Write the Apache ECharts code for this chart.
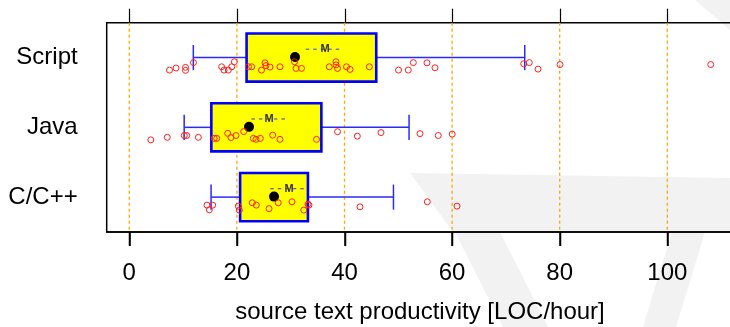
<!DOCTYPE html>
<html><head><meta charset="utf-8">
<script src="https://cdn.jsdelivr.net/npm/echarts@6/dist/echarts.min.js"></script>
<style>html,body{margin:0;padding:0;background:#fff;overflow:hidden}#c{width:730px;height:327px}</style>
</head><body><div id="c"></div>
<script>
// ---- data ----
const categories = ['Script', 'Java', 'C/C++'];
const xTicks = [0, 20, 40, 60, 80, 100];
const xTitle = 'source text productivity [LOC/hour]';

// per category (order as categories)
const whiskerLow  = [11.9, 10.2, 15.2];   // 10% quantile
const q1          = [21.8, 15.25, 20.6];
const median      = [30.8, 22.25, 26.9];
const q3          = [45.9, 35.7, 33.2];
const whiskerHigh = [73.5, 52.0, 49.1];   // 90% quantile
const mean        = [36.4, 26.0, 29.7];
const seLow       = [32.8, 22.7, 26.2];   // mean - 1 SE
const seHigh      = [39.5, 29.4, 33.0];   // mean + 1 SE

// individual observations (value) and their vertical jitter (category units)
const scriptValues = [7.47, 8.68, 10.45, 10.45, 11.93, 17.17, 17.60, 18.40, 19.03, 19.52, 22.16, 22.75, 24.57, 25.22, 25.41, 26.15, 28.01, 30.71, 30.99, 32.01, 37.17, 38.42, 38.42, 38.70, 40.37, 41.02, 44.61, 50.04, 51.86, 52.79, 55.33, 56.82, 73.31, 74.35, 75.97, 80.06, 108.07];
const scriptJitter = [0.179, 0.150, 0.140, 0.183, 0.072, 0.132, 0.179, 0.179, 0.132, 0.060, 0.132, 0.132, 0.179, 0.075, 0.115, 0.136, 0.132, 0.060, 0.155, 0.155, 0.132, 0.060, 0.105, 0.155, 0.132, 0.169, 0.132, 0.179, 0.179, 0.072, 0.075, 0.146, 0.089, 0.072, 0.165, 0.100, 0.100];
const javaValues = [4.00, 7.06, 10.22, 10.67, 12.83, 15.78, 16.25, 18.29, 18.90, 19.83, 21.26, 23.05, 23.55, 24.35, 26.65, 28.01, 34.80, 38.70, 42.38, 46.78, 54.03, 57.43, 60.02];
const javaJitter = [0.179, 0.143, 0.117, 0.117, 0.143, 0.158, 0.158, 0.086, 0.146, 0.117, 0.060, 0.158, 0.172, 0.158, 0.112, 0.172, 0.172, 0.062, 0.126, 0.075, 0.090, 0.117, 0.097];
const cppValues = [14.44, 15.50, 14.87, 20.26, 20.45, 22.86, 23.61, 25.97, 27.68, 30.24, 32.43, 33.22, 33.40, 42.88, 55.39, 60.91];
const cppJitter = [0.115, 0.115, 0.182, 0.129, 0.186, 0.082, 0.115, 0.165, 0.082, 0.067, 0.186, 0.100, 0.115, 0.139, 0.067, 0.129];

const pointValues = [scriptValues, javaValues, cppValues];
const pointJitter = [scriptJitter, javaJitter, cppJitter];

// ---- chart ----
const FONT = '"Liberation Sans", Arial, Helvetica, sans-serif';
const X_MIN = -4.2, X_MAX = 115.37;

const boxData = categories.map((c, i) => [i, whiskerLow[i], q1[i], median[i], q3[i], whiskerHigh[i], mean[i], seLow[i], seHigh[i]]);
const pointData = [];
pointValues.forEach((arr, i) => arr.forEach((v, k) => pointData.push([v, i + pointJitter[i][k]])));

const chart = echarts.init(document.getElementById('c'), null, {renderer: 'canvas'});
chart.setOption({
  animation: false,
  backgroundColor: '#fff',
  graphic: [
    {type: 'polygon', z: -1, silent: true, shape: {points: [[695, 0], [730, 0], [730, 30]]}, style: {fill: '#f2f2f2'}},
    {type: 'polygon', z: -1, silent: true, shape: {points: [[410, 173], [730, 178], [730, 232], [453, 232]]}, style: {fill: '#f2f2f2'}},
    {type: 'polygon', z: -1, silent: true, shape: {points: [[455, 232], [500, 232], [548, 327], [503, 327]]}, style: {fill: '#f2f2f2'}},
    {type: 'polygon', z: -1, silent: true, shape: {points: [[672, 232], [705, 232], [676, 327], [643, 327]]}, style: {fill: '#f2f2f2'}},
    {type: 'text', x: 420, y: 312, silent: true,
      style: {text: xTitle, font: '24px ' + FONT, fill: '#000', align: 'center', verticalAlign: 'middle'}}
  ],
  grid: {left: 106.7, top: 22.7, width: 643.3, height: 209.3, outerBoundsMode: 'none', containLabel: false,
    show: true, borderColor: '#000', borderWidth: 1.5, backgroundColor: 'transparent'},
  xAxis: [
    {type: 'value', position: 'bottom', min: X_MIN, max: X_MAX,
      axisLine: {show: true, onZero: false, lineStyle: {color: '#000', width: 1.5}},
      axisTick: {show: true, length: 14, inside: false, customValues: xTicks, lineStyle: {color: '#000', width: 1.5}},
      axisLabel: {show: true, customValues: xTicks, margin: 29, fontSize: 24, fontFamily: FONT, color: '#000'},
      splitLine: {show: false}}
  ],
  yAxis: [
    {type: 'category', data: categories, inverse: true, boundaryGap: true,
      axisLine: {show: false}, axisTick: {show: false}, splitLine: {show: false},
      axisLabel: {margin: 29, fontSize: 24, fontFamily: FONT, color: '#000'}},
    {type: 'value', min: -0.5, max: 2.5, inverse: true, show: false,
      axisLine: {show: false, onZero: false}, splitLine: {show: false}}
  ],
  series: [
    { // dashed orange reference lines
      type: 'custom', xAxisIndex: 0, yAxisIndex: 1, z: 1, silent: true, clip: false,
      data: xTicks.map(t => [t]),
      renderItem(params, api) {
        const cs = params.coordSys;
        const x = api.coord([api.value(0), 0])[0];
        return {type: 'line', shape: {x1: x, y1: cs.y, x2: x, y2: cs.y + cs.height},
          style: {stroke: '#ffa500', lineWidth: 1.3, lineDash: [3, 3]}};
      }
    },
    { // outward tick marks above the top frame and below the bottom frame
      type: 'custom', xAxisIndex: 0, yAxisIndex: 1, z: 10, silent: true, clip: false,
      data: xTicks.map(t => [t]),
      renderItem(params, api) {
        const cs = params.coordSys;
        const x = Math.round(api.coord([api.value(0), 0])[0]) + 0.5;
        const yt = cs.y, yb = cs.y + cs.height;
        return {type: 'group', children: [
          {type: 'line', shape: {x1: x, y1: yt - 14, x2: x, y2: yt}, style: {stroke: '#000', lineWidth: 1.2}},
          {type: 'line', shape: {x1: x, y1: yb, x2: x, y2: yb + 14}, style: {stroke: '#000', lineWidth: 1.5}}
        ]};
      }
    },
    { // boxes
      type: 'custom', xAxisIndex: 0, yAxisIndex: 1, z: 3, silent: true,
      data: boxData,
      renderItem(params, api) {
        const i = api.value(0);
        const band = api.size([0, 1])[1];
        const yc = api.coord([0, i])[1];
        const X = v => api.coord([v, i])[0];
        const xw1 = X(api.value(1)), xq1 = X(api.value(2)), xmed = X(api.value(3));
        const xq3 = X(api.value(4)), xw2 = X(api.value(5));
        const xmean = X(api.value(6)), xs1 = X(api.value(7)), xs2 = X(api.value(8));
        const bh = band * 0.69;
        const cap = band * 0.18;
        const ym = yc - band * 0.12;
        const wStyle = {stroke: '#2a2aff', lineWidth: 1.5};
        return {type: 'group', children: [
          {type: 'line', shape: {x1: xw1, y1: yc, x2: xq1, y2: yc}, style: wStyle},
          {type: 'line', shape: {x1: xq3, y1: yc, x2: xw2, y2: yc}, style: wStyle},
          {type: 'line', shape: {x1: xw1, y1: yc - cap, x2: xw1, y2: yc + cap}, style: wStyle},
          {type: 'line', shape: {x1: xw2, y1: yc - cap, x2: xw2, y2: yc + cap}, style: wStyle},
          {type: 'rect', shape: {x: xq1, y: yc - bh / 2, width: xq3 - xq1, height: bh},
            style: {fill: '#ffff00', stroke: '#0000ff', lineWidth: 2.6}},
          {type: 'line', shape: {x1: xs1, y1: ym, x2: xs2, y2: ym}, style: {stroke: '#3a3ad0', lineWidth: 1, lineDash: [3.5, 4]}},
          {type: 'text', x: xmean, y: ym, style: {text: 'M', font: 'bold 11px ' + FONT, fill: '#333', align: 'center', verticalAlign: 'middle'}},
          {type: 'circle', shape: {cx: xmed, cy: yc - 0.5, r: 5}, style: {fill: '#000'}}
        ]};
      }
    },
    { // observations
      type: 'scatter', xAxisIndex: 0, yAxisIndex: 1, z: 5, silent: true,
      symbol: 'circle', symbolSize: 6,
      itemStyle: {color: 'rgba(0,0,0,0)', borderColor: '#ff2020', borderWidth: 1, opacity: 1},
      data: pointData
    }
  ]
});
</script>
</body></html>
